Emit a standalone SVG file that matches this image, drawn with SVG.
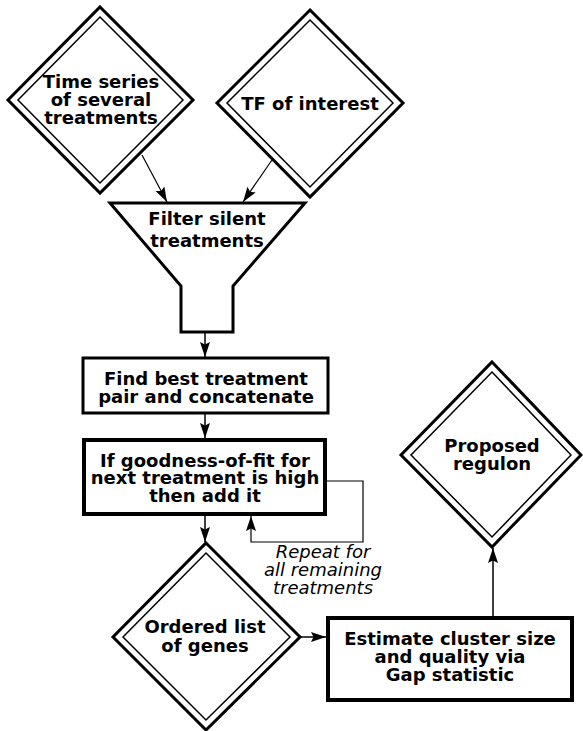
<svg xmlns="http://www.w3.org/2000/svg" width="583" height="731" viewBox="0 0 583 731">
<style>
.outer{fill:#fff;stroke:#000;stroke-width:3;stroke-linejoin:miter}
.inner{fill:none;stroke:#000;stroke-width:1.5}
.box{fill:#fff;stroke:#000;stroke-width:3}
.box4{fill:#fff;stroke:#000;stroke-width:4}
.t{font-family:"DejaVu Sans","Liberation Sans",sans-serif;font-weight:bold;font-size:18px;text-anchor:middle;fill:#000}
.it{font-family:"DejaVu Sans","Liberation Sans",sans-serif;font-style:italic;font-size:18px;text-anchor:middle;fill:#000}
.c{fill:none;stroke:#000;stroke-width:1.2}
.cv{fill:none;stroke:#000;stroke-width:1.5}
</style>
<defs>
<marker id="ah" markerUnits="userSpaceOnUse" markerWidth="16" markerHeight="11" refX="15" refY="5.5" orient="auto">
<path d="M0,0.5 L15,5.5 L0,10.5 L2.5,5.5 Z" fill="#000"/>
</marker>
</defs>
<g id="n1">
<polygon class="outer" points="100,7 193,100 100,193 8,100"/>
<polygon class="inner" points="100,17 183,100 100,183 18,100"/>
<text class="t" x="101" y="88">Time series</text>
<text class="t" x="101" y="106">of several</text>
<text class="t" x="101" y="124">treatments</text>
</g>
<g id="n2">
<polygon class="outer" points="310,10 403,103 310,197 217,103"/>
<polygon class="inner" points="310,20 393,103 310,187 227,103"/>
<text class="t" x="310" y="110">TF of interest</text>
</g>
<g id="n3">
<polygon class="box" points="110,203 305,203 233,286 233,332 181,332 181,286"/>
<text class="t" x="207" y="225">Filter silent</text>
<text class="t" x="207" y="247">treatments</text>
</g>
<g id="n4">
<rect class="box" x="83" y="358" width="245" height="55"/>
<text class="t" x="206" y="385">Find best treatment</text>
<text class="t" x="206" y="403">pair and concatenate</text>
</g>
<g id="n5">
<rect class="box4" x="84" y="440" width="241" height="74"/>
<text class="t" x="205" y="467">If goodness-of-fit for</text>
<text class="t" x="205" y="484">next treatment is high</text>
<text class="t" x="205" y="502">then add it</text>
</g>
<g id="n6">
<polygon class="outer" points="206,543 300,637 206,730 113,637"/>
<polygon class="inner" points="206,553 290,637 206,720 123,637"/>
<text class="t" x="205" y="633">Ordered list</text>
<text class="t" x="205" y="652">of genes</text>
</g>
<g id="n7">
<rect class="box4" x="328" y="618" width="244" height="82"/>
<text class="t" x="450" y="645">Estimate cluster size</text>
<text class="t" x="450" y="663">and quality via</text>
<text class="t" x="450" y="681">Gap statistic</text>
</g>
<g id="n8">
<polygon class="outer" points="492,362 581,455 492,547 401,455"/>
<polygon class="inner" points="492,372 571,455 492,537 411,455"/>
<text class="t" x="492" y="452">Proposed</text>
<text class="t" x="492" y="470">regulon</text>
</g>
<g id="connectors">
<line class="c" x1="142" y1="155" x2="167" y2="202" marker-end="url(#ah)"/>
<line class="c" x1="272" y1="160" x2="243" y2="202" marker-end="url(#ah)"/>
<line class="cv" x1="205" y1="333" x2="205" y2="357" marker-end="url(#ah)"/>
<line class="cv" x1="205" y1="414" x2="205" y2="438" marker-end="url(#ah)"/>
<line class="cv" x1="205" y1="516" x2="205" y2="542" marker-end="url(#ah)"/>
<polyline class="c" points="325,481 363,481 363,542 251,542 251,516" marker-end="url(#ah)"/>
<line class="cv" x1="300" y1="637" x2="326" y2="637" marker-end="url(#ah)"/>
<line class="cv" x1="493" y1="617" x2="493" y2="548" marker-end="url(#ah)"/>
<text class="it" x="323" y="558">Repeat for</text>
<text class="it" x="323" y="576">all remaining</text>
<text class="it" x="323" y="594">treatments</text>
</g>
</svg>
